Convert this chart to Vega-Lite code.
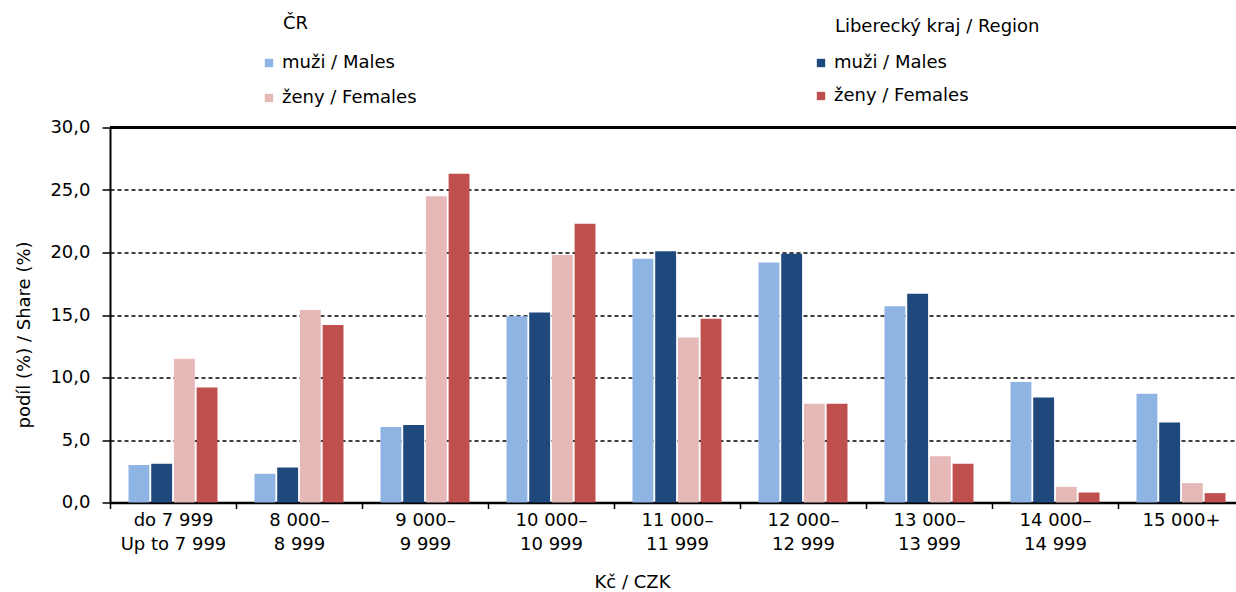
{
  "$schema": "https://vega.github.io/schema/vega-lite/v6.json",
  "width": 1126,
  "height": 375,
  "autosize": "none",
  "padding": {"left": 110, "top": 127.5, "right": 0, "bottom": 89.5},
  "background": "white",
  "config": {
    "font": "DejaVu Sans",
    "view": {"stroke": null},
    "legend": {
      "orient": "none",
      "direction": "vertical",
      "padding": 0,
      "titleFontSize": 18,
      "titleFontWeight": "normal",
      "titleColor": "black",
      "titleLimit": 600,
      "titleBaseline": "top",
      "titlePadding": 21,
      "labelFontSize": 18,
      "labelColor": "black",
      "labelLimit": 600,
      "labelOffset": 4,
      "rowPadding": 17,
      "symbolType": "square",
      "symbolSize": 70,
      "symbolStrokeWidth": 0
    }
  },
  "data": {
    "values": [
      {"cat": "do 7 999|Up to 7 999", "region": "CR", "sex": "muži / Males", "pos": 1, "value": 3.0},
      {"cat": "do 7 999|Up to 7 999", "region": "LK", "sex": "muži / Males", "pos": 2, "value": 3.1},
      {"cat": "do 7 999|Up to 7 999", "region": "CR", "sex": "ženy / Females", "pos": 3, "value": 11.5},
      {"cat": "do 7 999|Up to 7 999", "region": "LK", "sex": "ženy / Females", "pos": 4, "value": 9.2},
      {"cat": "8 000–|8 999", "region": "CR", "sex": "muži / Males", "pos": 1, "value": 2.3},
      {"cat": "8 000–|8 999", "region": "LK", "sex": "muži / Males", "pos": 2, "value": 2.8},
      {"cat": "8 000–|8 999", "region": "CR", "sex": "ženy / Females", "pos": 3, "value": 15.4},
      {"cat": "8 000–|8 999", "region": "LK", "sex": "ženy / Females", "pos": 4, "value": 14.2},
      {"cat": "9 000–|9 999", "region": "CR", "sex": "muži / Males", "pos": 1, "value": 6.05},
      {"cat": "9 000–|9 999", "region": "LK", "sex": "muži / Males", "pos": 2, "value": 6.2},
      {"cat": "9 000–|9 999", "region": "CR", "sex": "ženy / Females", "pos": 3, "value": 24.5},
      {"cat": "9 000–|9 999", "region": "LK", "sex": "ženy / Females", "pos": 4, "value": 26.3},
      {"cat": "10 000–|10 999", "region": "CR", "sex": "muži / Males", "pos": 1, "value": 14.9},
      {"cat": "10 000–|10 999", "region": "LK", "sex": "muži / Males", "pos": 2, "value": 15.2},
      {"cat": "10 000–|10 999", "region": "CR", "sex": "ženy / Females", "pos": 3, "value": 19.8},
      {"cat": "10 000–|10 999", "region": "LK", "sex": "ženy / Females", "pos": 4, "value": 22.3},
      {"cat": "11 000–|11 999", "region": "CR", "sex": "muži / Males", "pos": 1, "value": 19.5},
      {"cat": "11 000–|11 999", "region": "LK", "sex": "muži / Males", "pos": 2, "value": 20.1},
      {"cat": "11 000–|11 999", "region": "CR", "sex": "ženy / Females", "pos": 3, "value": 13.2},
      {"cat": "11 000–|11 999", "region": "LK", "sex": "ženy / Females", "pos": 4, "value": 14.7},
      {"cat": "12 000–|12 999", "region": "CR", "sex": "muži / Males", "pos": 1, "value": 19.2},
      {"cat": "12 000–|12 999", "region": "LK", "sex": "muži / Males", "pos": 2, "value": 19.9},
      {"cat": "12 000–|12 999", "region": "CR", "sex": "ženy / Females", "pos": 3, "value": 7.9},
      {"cat": "12 000–|12 999", "region": "LK", "sex": "ženy / Females", "pos": 4, "value": 7.9},
      {"cat": "13 000–|13 999", "region": "CR", "sex": "muži / Males", "pos": 1, "value": 15.7},
      {"cat": "13 000–|13 999", "region": "LK", "sex": "muži / Males", "pos": 2, "value": 16.7},
      {"cat": "13 000–|13 999", "region": "CR", "sex": "ženy / Females", "pos": 3, "value": 3.7},
      {"cat": "13 000–|13 999", "region": "LK", "sex": "ženy / Females", "pos": 4, "value": 3.1},
      {"cat": "14 000–|14 999", "region": "CR", "sex": "muži / Males", "pos": 1, "value": 9.65},
      {"cat": "14 000–|14 999", "region": "LK", "sex": "muži / Males", "pos": 2, "value": 8.4},
      {"cat": "14 000–|14 999", "region": "CR", "sex": "ženy / Females", "pos": 3, "value": 1.25},
      {"cat": "14 000–|14 999", "region": "LK", "sex": "ženy / Females", "pos": 4, "value": 0.8},
      {"cat": "15 000+", "region": "CR", "sex": "muži / Males", "pos": 1, "value": 8.7},
      {"cat": "15 000+", "region": "LK", "sex": "muži / Males", "pos": 2, "value": 6.4},
      {"cat": "15 000+", "region": "CR", "sex": "ženy / Females", "pos": 3, "value": 1.55},
      {"cat": "15 000+", "region": "LK", "sex": "ženy / Females", "pos": 4, "value": 0.75}
    ]
  },
  "layer": [
    {
      "encoding": {
        "x": {
          "field": "cat",
          "type": "nominal",
          "sort": null,
          "scale": {"range": [0, 1134], "paddingInner": 0, "paddingOuter": 0},
          "axis": {
            "title": "Kč / CZK",
            "titleFontSize": 18,
            "titleFontWeight": "normal",
            "titleColor": "black",
            "titleX": 522,
            "titleY": 80,
            "titleBaseline": "middle",
            "labelAngle": 0,
            "labelExpr": "split(datum.label, '|')",
            "labelFontSize": 18,
            "labelColor": "black",
            "labelLineHeight": 24,
            "labelBaseline": "top",
            "labelPadding": 3,
            "labelLimit": 300,
            "tickBand": "extent",
            "tickSize": 6,
            "tickWidth": 1.5,
            "tickColor": "black",
            "domainColor": "black",
            "domainWidth": 2.5,
            "grid": false
          }
        },
        "xOffset": {
          "field": "pos",
          "type": "ordinal",
          "scale": {"paddingInner": 0.08, "paddingOuter": 0.815}
        },
        "y": {
          "field": "value",
          "type": "quantitative",
          "scale": {"domain": [0, 30], "nice": false},
          "axis": {
            "title": "podíl (%) / Share (%)",
            "titleFontSize": 18,
            "titleFontWeight": "normal",
            "titleColor": "black",
            "titleAngle": 270,
            "titleX": -86,
            "titleY": 207,
            "titleAlign": "center",
            "titleBaseline": "middle",
            "values": [0, 5, 10, 15, 20, 25, 30],
            "labelExpr": "replace(format(datum.value, '.1f'), '.', ',')",
            "labelFontSize": 18,
            "labelColor": "black",
            "labelPadding": 12,
            "tickSize": 8,
            "tickWidth": 1.5,
            "tickColor": "black",
            "domainColor": "black",
            "domainWidth": 2,
            "grid": true,
            "gridColor": "black",
            "gridDash": [4, 3],
            "gridWidth": 1.3
          }
        }
      },
      "layer": [
        {
          "transform": [{"filter": "datum.region == 'CR'"}],
          "mark": {"type": "bar"},
          "encoding": {
            "color": {
              "field": "sex",
              "type": "nominal",
              "scale": {"domain": ["muži / Males", "ženy / Females"], "range": ["#8EB4E3", "#E6B9B8"]},
              "legend": {"title": "\u200b\u00a0\u00a0\u00a0\u00a0ČR", "legendX": 150, "legendY": -112.5}
            }
          }
        },
        {
          "transform": [{"filter": "datum.region == 'LK'"}],
          "mark": {"type": "bar"},
          "encoding": {
            "color": {
              "field": "sex",
              "type": "nominal",
              "scale": {"domain": ["muži / Males", "ženy / Females"], "range": ["#1F497D", "#C0504D"]},
              "legend": {"title": "\u200b\u00a0\u00a0\u00a0\u00a0Liberecký kraj  /  Region", "legendX": 702, "legendY": -109.5, "titlePadding": 18, "rowPadding": 15}
            }
          }
        }
      ],
      "resolve": {"scale": {"color": "independent"}, "legend": {"color": "independent"}}
    },
    {
      "mark": {"type": "rule", "color": "black", "strokeWidth": 2},
      "encoding": {"y": {"datum": 30, "type": "quantitative"}}
    }
  ]
}
